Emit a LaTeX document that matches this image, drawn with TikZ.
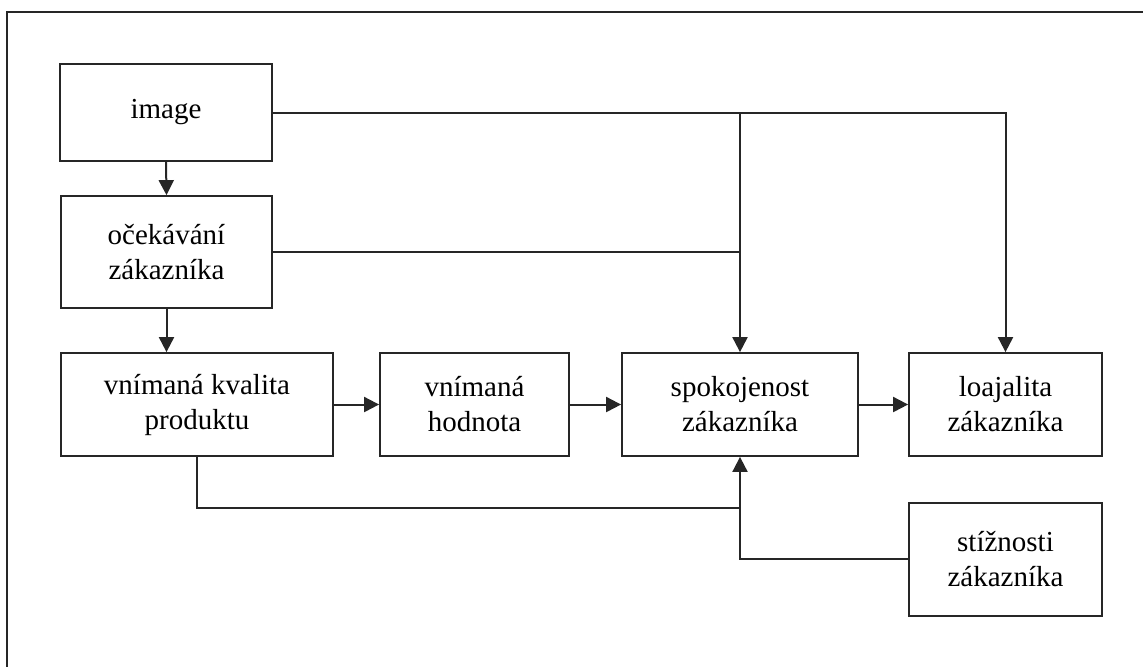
\documentclass[tikz,border=0pt]{standalone}
\usepackage{fontspec}
\setmainfont{Liberation Serif}
\usetikzlibrary{arrows.meta}
\begin{document}
\begin{tikzpicture}[x=0.5pt,y=-0.5pt,
  box/.style={draw=black!85, line width=0.9pt, align=center, inner sep=0pt,
    font=\fontsize{14.5}{17.5}\selectfont},
  conn/.style={line width=1pt, draw=black!85},
  arr/.style={conn, -{Triangle[length=7.5pt,width=7.5pt]}}]
\useasboundingbox (0,0) rectangle (1143,666);
\draw[line width=1.1pt, black!85] (7,675) -- (7,12) -- (1150,12);
\node[box, minimum width=212*0.5pt, minimum height=97*0.5pt] (img) at (166,112.5) {image};
\node[box, minimum width=211*0.5pt, minimum height=112*0.5pt] (ocek) at (166.5,252) {očekávání\\zákazníka};
\node[box, minimum width=272*0.5pt, minimum height=103*0.5pt] (vkp) at (197,404.5) {vnímaná kvalita\\produktu};
\node[box, minimum width=189*0.5pt, minimum height=103*0.5pt] (vh) at (474.5,404.5) {vnímaná\\hodnota};
\node[box, minimum width=236*0.5pt, minimum height=103*0.5pt] (spok) at (740,404.5) {spokojenost\\zákazníka};
\node[box, minimum width=193*0.5pt, minimum height=103*0.5pt] (loaj) at (1005.5,404.5) {loajalita\\zákazníka};
\node[box, minimum width=193*0.5pt, minimum height=113*0.5pt] (stiz) at (1005.5,559.5) {stížnosti\\zákazníka};
\coordinate (j1) at (740,113);
\coordinate (j2) at (740,252);
\coordinate (j3) at (740,508);
\coordinate (j4) at (740,559);
\coordinate (c1) at (197,508);
\draw[arr] (img.south) -- (ocek.north);
\draw[arr] (ocek.south) -- (ocek.south |- vkp.north);
\draw[arr] (img.east |- j1) -- (j1 -| loaj.north) -- (loaj.north);
\draw[arr] (j1) -- (spok.north);
\draw[conn] (ocek.east |- j2) -- (j2);
\draw[arr] (vkp.east) -- (vh.west);
\draw[arr] (vh.east) -- (spok.west);
\draw[arr] (spok.east) -- (loaj.west);
\draw[conn] (vkp.south) -- (c1) -- (j3);
\draw[arr] (stiz.west |- j4) -- (j4) -- (spok.south);
\end{tikzpicture}
\end{document}
